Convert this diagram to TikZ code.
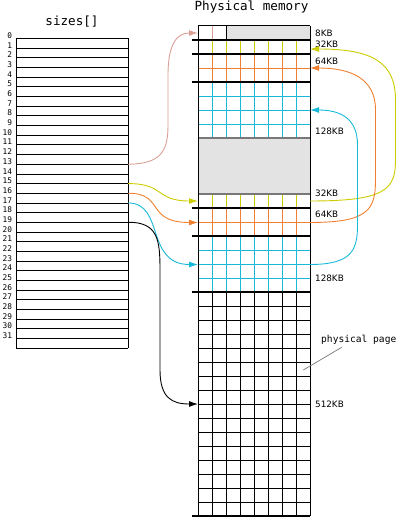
\documentclass[tikz,border=0pt]{standalone}
\usepackage{fontspec}
\setmainfont{DejaVu Sans}
\newfontfamily\monof{DejaVu Sans Mono}
\usetikzlibrary{arrows.meta}
\definecolor{yel}{RGB}{204,204,0}
\definecolor{ora}{RGB}{240,128,48}
\definecolor{cya}{RGB}{24,184,216}
\definecolor{pnk}{RGB}{218,160,150}
\definecolor{gfill}{RGB}{227,227,227}
\definecolor{gline}{RGB}{120,120,120}
\tikzset{
  thin grid/.style={line width=0.8pt},
  bound/.style={line width=2.6pt,black},
  conn/.style={line width=0.9pt,-{Latex[length=9pt,width=6pt]}},
  idx/.style={font=\monof\fontsize{7.8}{8}\selectfont,anchor=base east,inner sep=0pt},
  kb/.style={font=\fontsize{8.8}{9}\selectfont,anchor=west,inner sep=0pt},
  ttl/.style={font=\monof\fontsize{12.6}{13}\selectfont,inner sep=0pt},
}
\begin{document}
\begin{tikzpicture}[x=1pt,y=-1pt]
\useasboundingbox (0,0) rectangle (400,518);
% titles
\node[ttl] (t1) at (72,22) {sizes[]};
\node[ttl] (t2) at (251.5,7) {Physical memory};
% sizes array
\foreach \k in {0,...,32} {
  \draw[thin grid] (16,{38.5+\k*9.672}) -- (128,{38.5+\k*9.672});
}
\draw[thin grid] (16,38.5) -- (16,348) (128,38.5) -- (128,348);
\foreach \k in {0,...,31} {
  \node[idx] (i\k) at (12.3,{38.6+\k*9.672}) {\k};
  \coordinate (s\k) at (128,{38.5+\k*9.672});
}
% physical memory fills
\fill[gfill] (226,26) rectangle (310,40);
\fill[gfill] (198,138) rectangle (310,194);
% grids
\foreach \x in {212,226,...,296} {
  \draw[thin grid,yel] (\x,40) -- (\x,54);
  \draw[thin grid,ora] (\x,54) -- (\x,82);
  \draw[thin grid,cya] (\x,82) -- (\x,138);
  \draw[thin grid,yel] (\x,194) -- (\x,208);
  \draw[thin grid,ora] (\x,208) -- (\x,236);
  \draw[thin grid,cya] (\x,236) -- (\x,292);
  \draw[thin grid] (\x,292) -- (\x,516);
}
\draw[thin grid,pnk] (212,26) -- (212,40);
\draw[thin grid] (226,26) -- (226,40);
\draw[thin grid,ora] (198,68) -- (310,68) (198,222) -- (310,222);
\foreach \y in {96,110,124,250,264,278} \draw[thin grid,cya] (198,\y) -- (310,\y);
\foreach \y in {306,320,...,502} \draw[thin grid] (198,\y) -- (310,\y);
\draw[line width=1.6pt,gline] (198,138) -- (310,138) (198,194) -- (310,194);
\draw[line width=1pt] (198,26) -- (310,26);
\draw[line width=1pt] (198,26) -- (198,516) (310,26) -- (310,516);
\foreach \y in {40,54,82,208,236,292,516} \draw[bound] (192,\y) -- (310,\y);
% size labels
\node[kb] (k8) at (315,33) {8KB};
\node[kb] (k32a) at (315,44) {32KB};
\node[kb] (k64a) at (315,61) {64KB};
\node[kb] (k128a) at (315,131) {128KB};
\node[kb] (k32b) at (315,193.5) {32KB};
\node[kb] (k64b) at (315,214.5) {64KB};
\node[kb] (k128b) at (315,278.5) {128KB};
\node[kb] (k512) at (315,404) {512KB};
\node[font=\monof\fontsize{9.6}{10}\selectfont,anchor=west,inner sep=0pt] (pp) at (321,340) {physical page};
\draw[gline,line width=0.7pt] (341.7,347.3) -- (303.3,370);
% memory anchor points
\coordinate (m8) at (198,33);
\coordinate (m32aR) at (310,49);
\coordinate (m64aR) at (310,68);
\coordinate (m128aR) at (310,110);
\coordinate (m32bL) at (198,201);
\coordinate (m32bR) at (310,201);
\coordinate (m64bL) at (198,222.5);
\coordinate (m64bR) at (310,222.5);
\coordinate (m128bL) at (198,264.5);
\coordinate (m128bR) at (310,264.5);
\coordinate (m512L) at (198,404);
% left connectors
\draw[conn,pnk] (s13) .. controls (162,164) and (168,150) .. (168,125) -- (168,75) .. controls (168,42) and (178,33) .. (m8);
\draw[conn,yel] (s15) .. controls (165,183.5) and (155,201) .. (m32bL);
\draw[conn,ora] (s16) .. controls (165,193) and (145,222.5) .. (m64bL);
\draw[conn,cya] (s17) .. controls (165,203) and (145,264.5) .. (m128bL);
\draw[conn,black] (s19) .. controls (158,222) and (160,240) .. (160,270) -- (160,370) .. controls (160,398) and (172,404) .. (m512L);
% right connectors
\draw[conn,yel] (m32bR) .. controls (385,201) and (395.5,190) .. (395.5,160) -- (395.5,100) .. controls (395.5,62) and (372,49) .. (m32aR);
\draw[conn,ora] (m64bR) .. controls (368,222.5) and (375.5,210) .. (375.5,180) -- (375.5,110) .. controls (375.5,78) and (350,68) .. (m64aR);
\draw[conn,cya] (m128bR) .. controls (352,264.5) and (357.5,250) .. (357.5,225) -- (357.5,145) .. controls (357.5,118) and (340,110) .. (m128aR);
\end{tikzpicture}
\end{document}
